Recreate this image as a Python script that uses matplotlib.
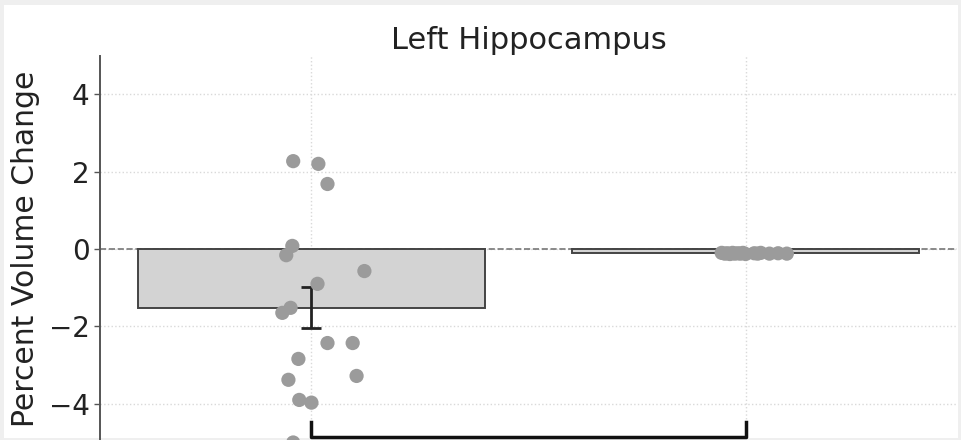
import numpy as np
import matplotlib
matplotlib.use("Agg")
import matplotlib.pyplot as plt
from matplotlib.patches import Rectangle

# Percent volume change per subject, left hippocampus
groups = ["Group A", "Group B"]
group_a = [2.27, 2.20, 1.68, 0.08, -0.16, -0.57, -0.90, -1.52, -1.65,
           -2.43, -2.43, -2.84, -3.28, -3.38, -3.90, -3.97, -5.00]
group_b = [-0.10, -0.12, -0.11, -0.13, -0.10, -0.12, -0.11, -0.12,
           -0.10, -0.13, -0.11, -0.12, -0.10, -0.12, -0.11, -0.12]
# horizontal jitter of the subject dots around each bar centre
jitter_a = [-0.042, 0.016, 0.037, -0.044, -0.058, 0.122, 0.014, -0.048, -0.067,
            0.037, 0.095, -0.030, 0.104, -0.053, -0.028, 0.000, -0.042]
jitter_b = [-0.055, -0.048, -0.042, -0.036, -0.030, -0.025, -0.018, -0.012,
            -0.006, 0.000, 0.020, 0.028, 0.035, 0.055, 0.075, 0.095]

data = [np.array(group_a), np.array(group_b)]
jitters = [np.array(jitter_a), np.array(jitter_b)]
means = [d.mean() for d in data]
sems = [d.std(ddof=1) / np.sqrt(len(d)) for d in data]

W, H, DPI = 962, 440, 100
fig = plt.figure(figsize=(W / DPI, H / DPI), dpi=DPI, facecolor="#efefef")
fig.patches.append(Rectangle((4 / W, 2 / H), 1 - 8 / W, 1 - 7 / H,
                             transform=fig.transFigure, facecolor="white",
                             edgecolor="none", zorder=-10))

# axes geometry in pixels
px_per_unit = 38.7
y_top_px = 55.5
ymin, ymax = -5.0, 5.0
ax_h = (ymax - ymin) * px_per_unit
left_px, right_px = 100, 957
ax = fig.add_axes([left_px / W, (H - y_top_px - ax_h) / H,
                   (right_px - left_px) / W, ax_h / H])
ax.set_facecolor("none")

x = np.arange(len(groups))
ax.bar(x, means, width=0.8, color="#d3d3d3", edgecolor="#444444",
       linewidth=1.4, zorder=2)
ax.errorbar(x, means, yerr=sems, fmt="none", ecolor="#222222",
            elinewidth=2, capsize=7, capthick=2, zorder=2.5)
for xi, d, j in zip(x, data, jitters):
    ax.scatter(xi + j, d, s=105, color="#9b9b9b", edgecolors="none",
               zorder=3, clip_on=False)

ax.axhline(0, color="#777777", linestyle="--", linewidth=1.2, zorder=1)

# significance bracket between the two groups
yb, hb = -4.86, 0.40
ax.plot([x[0], x[0], x[1], x[1]], [yb + hb, yb, yb, yb + hb],
        color="#111111", linewidth=2.5, clip_on=False, zorder=5)

ax.set_xlim(-0.487, 1.487)
ax.set_ylim(ymin, ymax)
ax.set_xticks(x)
ax.set_xticklabels(["", ""])
ax.set_yticks([-4, -2, 0, 2, 4])
ax.set_yticklabels(["\u22124", "\u22122", "0", "2", "4"])
ax.grid(True, color="#d9d9d9", linestyle=":", linewidth=1.0, zorder=0)
ax.set_axisbelow(True)

for s in ["top", "right", "bottom"]:
    ax.spines[s].set_visible(False)
ax.spines["left"].set_color("#555555")
ax.spines["left"].set_linewidth(1.4)
ax.tick_params(axis="y", labelsize=20, colors="#555555", labelcolor="#222222",
               length=4, width=1)
ax.tick_params(axis="x", length=0)

ax.set_ylabel("Percent Volume Change", fontsize=21.5, color="#222222", labelpad=6)
ax.set_title("Left Hippocampus", fontsize=22, color="#222222", pad=5)

fig.savefig("out.png", dpi=DPI, facecolor=fig.get_facecolor())
